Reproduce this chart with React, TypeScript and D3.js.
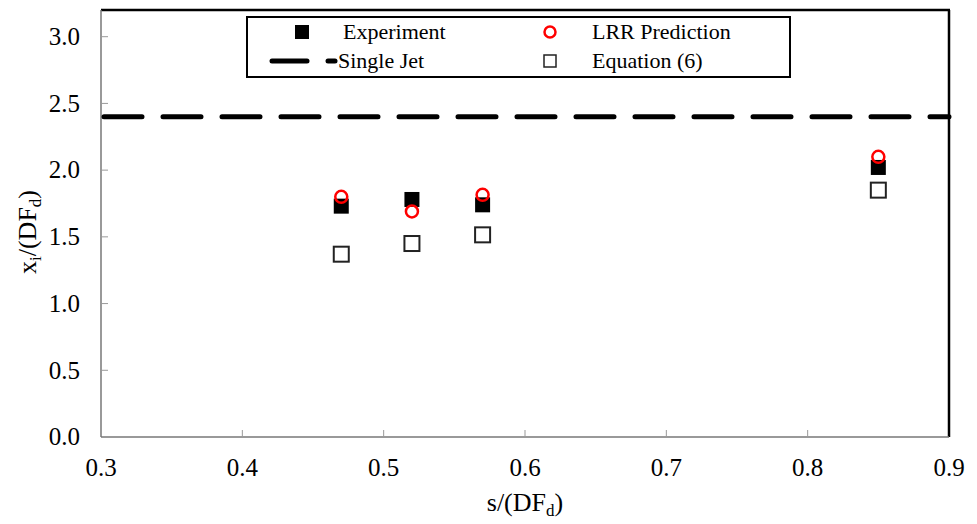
import React from "react";
import * as d3 from "d3";

const spacing = [0.47, 0.52, 0.57, 0.85];
const experiment = [1.73, 1.78, 1.74, 2.02];
const lrrPrediction = [1.8, 1.69, 1.815, 2.1];
const equation6 = [1.37, 1.45, 1.515, 1.85];
const singleJet = 2.4;
const xTicks = [0.3, 0.4, 0.5, 0.6, 0.7, 0.8, 0.9];
const yTicks = [0, 0.5, 1.0, 1.5, 2.0, 2.5, 3.0];

const W = 977;
const H = 524;
const margin = { top: 10, right: 28, bottom: 87, left: 101 };
const font = "Liberation Serif";

const App = () => {
  const x = d3.scaleLinear().domain([0.3, 0.9]).range([margin.left, W - margin.right]);
  const y = d3.scaleLinear().domain([0, 3.2]).range([H - margin.bottom, margin.top]);
  const x0 = x(0.3);
  const x1 = x(0.9);
  const y0 = y(0);
  const yTop = y(3.2);
  const sq = 15;

  return (
    <svg width={W} height={H} style={{ position: "absolute", left: 0, top: 0, background: "#fff" }}>
      <rect width={W} height={H} fill="#fff" />
      {/* frame: top and right black, left and bottom grey */}
      <line x1={x0} x2={x1 + 1} y1={yTop} y2={yTop} stroke="#000" strokeWidth={2.5} />
      <line x1={x1} x2={x1} y1={yTop} y2={y0} stroke="#000" strokeWidth={2.5} />
      <line x1={x0} x2={x0} y1={yTop} y2={y0} stroke="#777" strokeWidth={1.5} />
      <line x1={x0} x2={x1} y1={y0} y2={y0} stroke="#777" strokeWidth={1.5} />

      <g fontFamily={font}>
        {yTicks.map((t) => (
          <g key={"y" + t}>
            {t > 0 && <line x1={x0} x2={x0 + 7} y1={y(t)} y2={y(t)} stroke="#999" strokeWidth={1} />}
            <text x={x0 - 21} y={y(t)} dy="0.33em" textAnchor="end" fontSize={25}>
              {d3.format(".1f")(t)}
            </text>
          </g>
        ))}
        {xTicks.map((t) => (
          <g key={"x" + t}>
            {t > 0.3 && t < 0.9 && <line x1={x(t)} x2={x(t)} y1={y0} y2={y0 - 7} stroke="#999" strokeWidth={1} />}
            <text x={x(t)} y={y0 + 39} textAnchor="middle" fontSize={25}>
              {d3.format(".1f")(t)}
            </text>
          </g>
        ))}

        <text x={(x0 + x1) / 2} y={511} textAnchor="middle" fontSize={26}>
          s/(DF<tspan fontSize={17} dy={5}>d</tspan>
          <tspan dy={-5}>)</tspan>
        </text>
        <text transform="translate(36,232) rotate(-90)" textAnchor="middle" fontSize={26}>
          x<tspan fontSize={17} dy={5}>i</tspan>
          <tspan dy={-5}>/(DF</tspan>
          <tspan fontSize={17} dy={5}>d</tspan>
          <tspan dy={-5}>)</tspan>
        </text>
      </g>

      {/* single jet */}
      <line x1={x0 + 3} x2={x1} y1={y(singleJet)} y2={y(singleJet)} stroke="#000" strokeWidth={5}
        strokeDasharray="38 21" strokeLinecap="round" />

      {spacing.map((s, i) => (
        <g key={"p" + i}>
          <rect x={x(s) - sq / 2} y={y(equation6[i]) - sq / 2} width={sq} height={sq} fill="#fff" stroke="#222" strokeWidth={2} />
          <rect x={x(s) - sq / 2} y={y(experiment[i]) - sq / 2} width={sq} height={sq} fill="#000" />
          <circle cx={x(s)} cy={y(lrrPrediction[i])} r={6} fill="none" stroke="#f00" strokeWidth={2.5} />
        </g>
      ))}

      {/* legend */}
      <rect x={247} y={17} width={543} height={60} fill="#fff" stroke="#000" strokeWidth={2} />
      <g fontFamily={font} fontSize={22}>
        <rect x={295} y={25} width={14} height={14} fill="#000" />
        <text x={343} y={32} dy="0.33em">Experiment</text>
        <circle cx={550} cy={32} r={5.5} fill="none" stroke="#f00" strokeWidth={2.5} />
        <text x={592} y={32} dy="0.33em">LRR Prediction</text>
        <line x1={272} x2={307} y1={61} y2={61} stroke="#000" strokeWidth={5} strokeLinecap="round" />
        <line x1={328} x2={335} y1={61} y2={61} stroke="#000" strokeWidth={5} strokeLinecap="round" />
        <text x={338} y={61} dy="0.33em">Single Jet</text>
        <rect x={544} y={55} width={12} height={12} fill="#fff" stroke="#222" strokeWidth={1.5} />
        <text x={592} y={61} dy="0.33em">Equation (6)</text>
      </g>
    </svg>
  );
};

export default App;
